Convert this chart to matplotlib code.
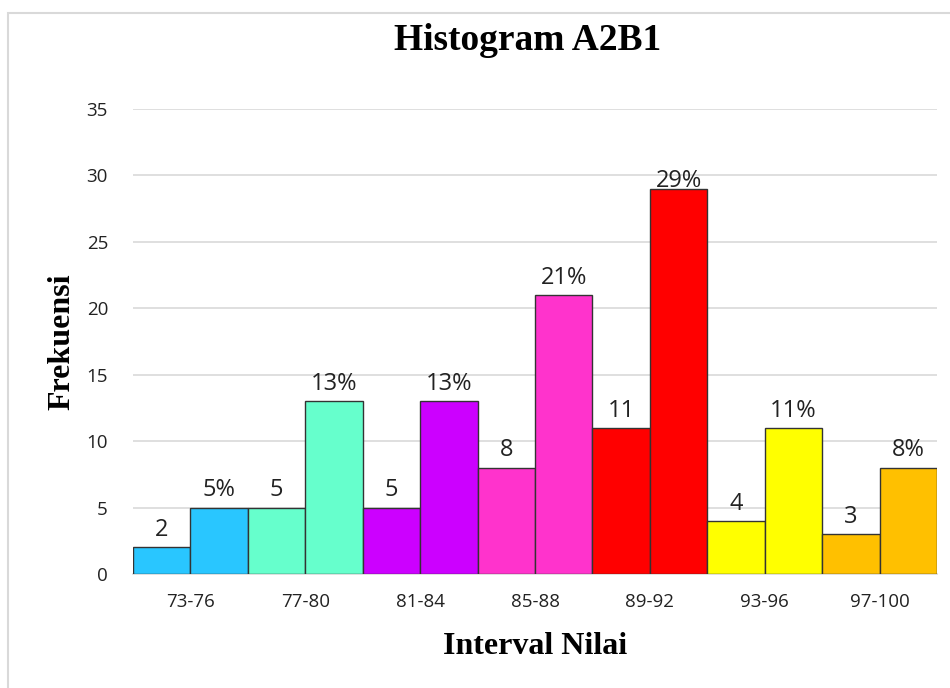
import matplotlib
matplotlib.use("Agg")
import matplotlib.pyplot as plt
from matplotlib.patches import Rectangle
import numpy as np

categories = ["73-76", "77-80", "81-84", "85-88", "89-92", "93-96", "97-100"]
counts = [2, 5, 5, 8, 11, 4, 3]
percents = [5, 13, 13, 21, 29, 11, 8]
colors = ["#29C6FF", "#66FFCC", "#CC00FF", "#FF33CC", "#FF0000", "#FFFF00", "#FFC000"]
yticks = [0, 5, 10, 15, 20, 25, 30, 35]

W, H = 950, 688
fig = plt.figure(figsize=(W / 100, H / 100), dpi=100)
fig.patches.append(Rectangle((8 / W, -0.05), 1.2, 1 - 13 / H + 0.05,
                             transform=fig.transFigure, fill=False,
                             edgecolor="#D9D9D9", linewidth=1.5))

ax = fig.add_axes([133 / W, 1 - 574 / H, (937 - 133) / W, (574 - 109) / H])
x = np.arange(len(categories))
bw = 0.5
tick_font = "Open Sans"
for i in range(len(categories)):
    ax.bar(x[i] - bw / 2, counts[i], width=bw, color=colors[i],
           edgecolor="#333333", linewidth=1, zorder=3)
    ax.bar(x[i] + bw / 2, percents[i], width=bw, color=colors[i],
           edgecolor="#333333", linewidth=1, zorder=3)
    ax.text(x[i] - bw / 2, counts[i] + 0.4, f"{counts[i]}", ha="center", va="bottom",
            fontsize=17, family=tick_font, color="#222222", zorder=4)
    ax.text(x[i] + bw / 2, percents[i] + 0.4 if percents[i] < 29 else percents[i] - 0.3,
            f"{percents[i]}%", ha="center", va="bottom",
            fontsize=17, family=tick_font, color="#222222", zorder=4)

ax.set_xlim(-0.5, len(categories) - 0.5)
ax.set_ylim(0, 35)
ax.set_yticks(yticks)
ax.set_yticklabels([str(v) for v in yticks], family=tick_font, fontsize=13.5, color="#222222")
ax.set_xticks(x)
ax.set_xticklabels(categories, family=tick_font, fontsize=13.5, color="#222222")
ax.tick_params(axis="both", length=0)
ax.tick_params(axis="y", pad=18)
ax.tick_params(axis="x", pad=14)
ax.yaxis.grid(True, color="#D9D9D9", linewidth=1.2, zorder=0)
ax.set_axisbelow(True)
for s in ["top", "right", "left"]:
    ax.spines[s].set_visible(False)
ax.spines["bottom"].set_color("#D9D9D9")
ax.spines["bottom"].set_linewidth(1.2)

fig.text(528 / W, 1 - 41 / H, "Histogram A2B1", ha="center", va="center",
         family="Liberation Serif", fontweight="bold", fontsize=27)
fig.text(535 / W, 1 - 646 / H, "Interval Nilai", ha="center", va="center",
         family="Liberation Serif", fontweight="bold", fontsize=23)
fig.text(62 / W, 1 - 342 / H, "Frekuensi", ha="center", va="center", rotation=90,
         family="Liberation Serif", fontweight="bold", fontsize=23)

fig.savefig("out.png", dpi=100, facecolor="white")
